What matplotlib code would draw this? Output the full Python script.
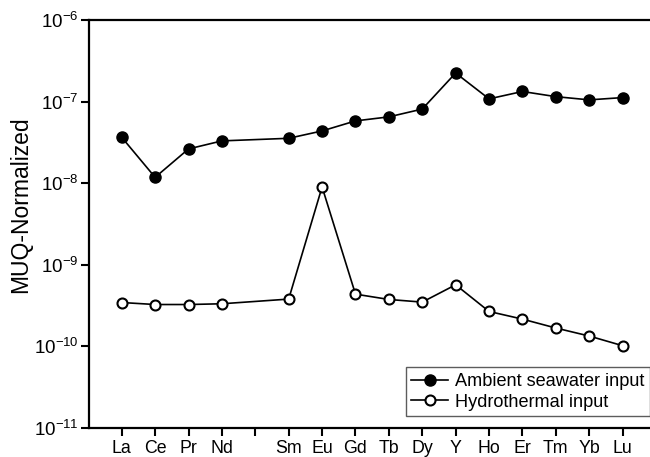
import numpy as np
import matplotlib
matplotlib.use("Agg")
import matplotlib.pyplot as plt

plt.rcParams["font.family"] = ["Liberation Sans", "DejaVu Sans"]
plt.rcParams["mathtext.fontset"] = "custom"
plt.rcParams["mathtext.rm"] = "Liberation Sans"
plt.rcParams["mathtext.it"] = "Liberation Sans:italic"
plt.rcParams["mathtext.bf"] = "Liberation Sans:bold"

# REE + Y, Pm slot left empty
elements = ["La", "Ce", "Pr", "Nd", "Sm", "Eu", "Gd", "Tb", "Dy", "Y",
            "Ho", "Er", "Tm", "Yb", "Lu"]
positions = [0, 1, 2, 3, 5, 6, 7, 8, 9, 10, 11, 12, 13, 14, 15]

ambient = [3.65e-8, 1.18e-8, 2.63e-8, 3.3e-8, 3.55e-8, 4.37e-8, 5.8e-8,
           6.5e-8, 8.1e-8, 2.24e-7, 1.08e-7, 1.33e-7, 1.15e-7, 1.05e-7,
           1.12e-7]
hydrothermal = [3.45e-10, 3.26e-10, 3.26e-10, 3.33e-10, 3.8e-10, 9.0e-9,
                4.37e-10, 3.76e-10, 3.49e-10, 5.69e-10, 2.68e-10, 2.16e-10,
                1.68e-10, 1.34e-10, 1.02e-10]

fig = plt.figure(figsize=(6.5, 4.57), dpi=100)
ax = fig.add_axes([89 / 650, 1 - 428 / 457, 567 / 650, 408 / 457])

ax.plot(positions, ambient, "-o", color="black", lw=1.2, ms=8,
        mfc="black", mec="black", label="Ambient seawater input", zorder=3)
ax.plot(positions, hydrothermal, "-o", color="black", lw=1.2, ms=7.2,
        mfc="white", mec="black", mew=1.5, label="Hydrothermal input", zorder=3)

ax.set_yscale("log")
ax.set_ylim(1e-11, 1e-6)
ax.set_xlim(-0.98, 16)
ax.set_yticks([1e-11, 1e-10, 1e-9, 1e-8, 1e-7, 1e-6])
ax.minorticks_off()
ax.set_xticks(list(range(16)))
labels = [""] * 16
for p, e in zip(positions, elements):
    labels[p] = e
ax.set_xticklabels(labels)

ax.tick_params(axis="both", direction="out", width=1.5, length=5.5,
               color="black")
ax.tick_params(axis="x", pad=3, labelsize=12.8)
ax.tick_params(axis="y", pad=2, labelsize=13.5)
for s in ax.spines.values():
    s.set_linewidth(1.6)
ax.spines["right"].set_visible(False)

ax.set_ylabel("MUQ-Normalized", fontsize=16.5)
ax.yaxis.set_label_coords(-0.1, 0.547)

leg = ax.legend(loc="lower left", bbox_to_anchor=(317 / 567, 12 / 408),
                fontsize=13.1, frameon=True, fancybox=False, edgecolor="#333333",
                borderpad=0.3, handlelength=2.0, handletextpad=0.4,
                labelspacing=0.2, borderaxespad=0)
leg.get_frame().set_linewidth(1.0)

fig.savefig("out.png", dpi=100)
